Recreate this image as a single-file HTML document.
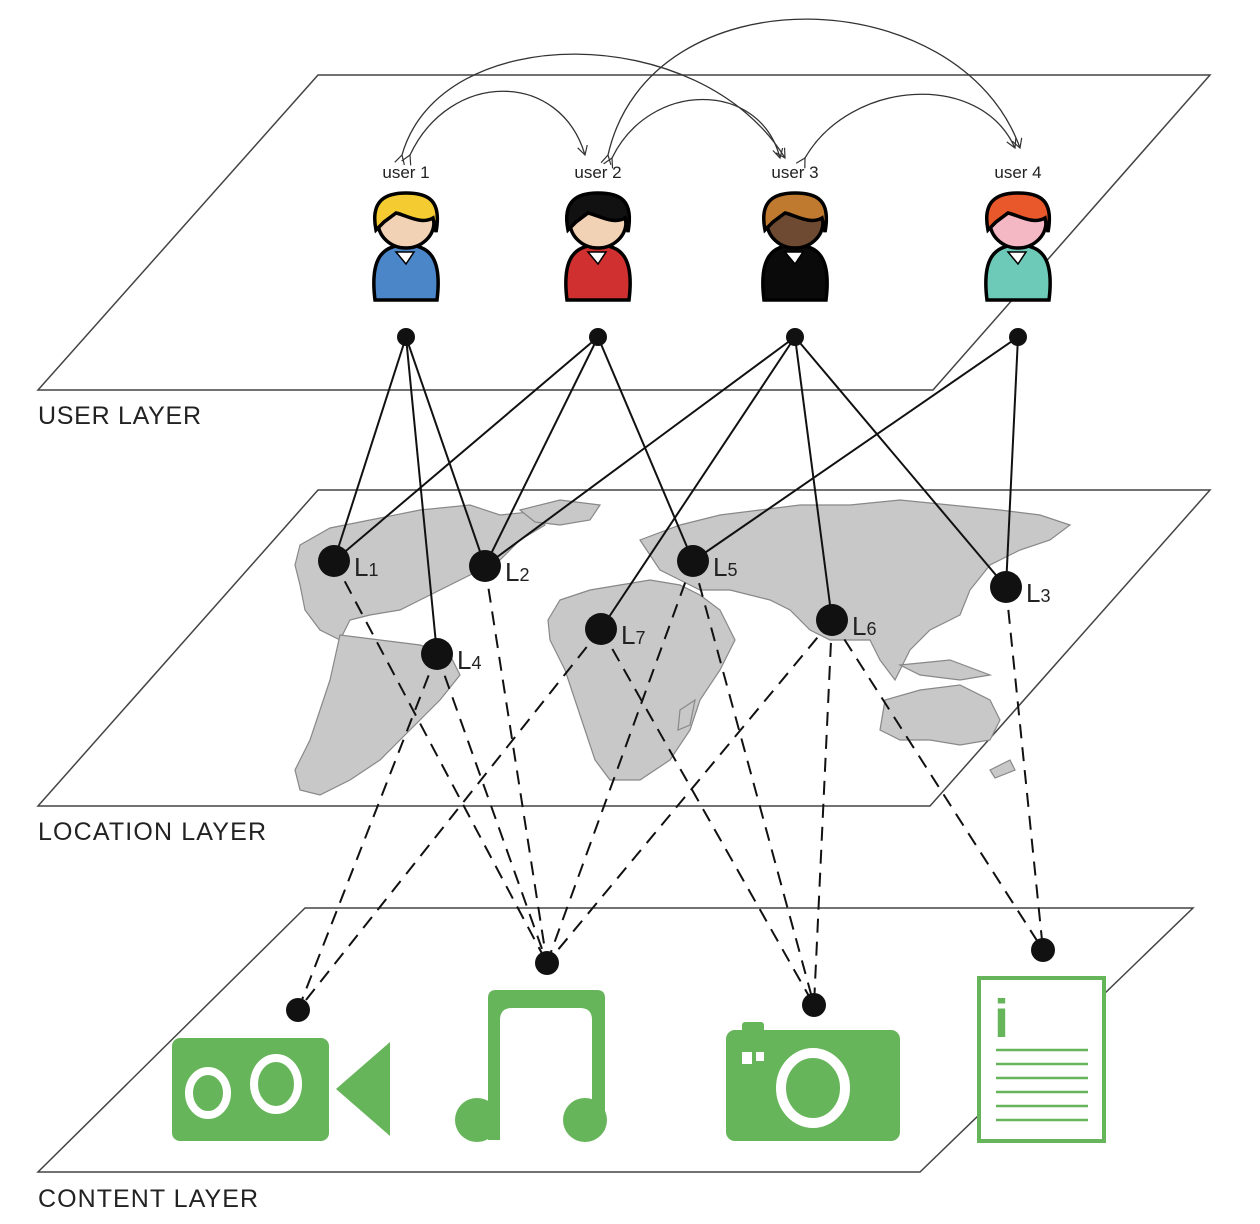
<!DOCTYPE html>
<html><head><meta charset="utf-8"><style>
html,body{margin:0;padding:0;background:#fff}
svg{display:block}
text{font-family:"Liberation Sans",sans-serif}
</style></head><body>
<svg width="1260" height="1224" viewBox="0 0 1260 1224" xmlns="http://www.w3.org/2000/svg">
<defs>
<marker id="ah" markerWidth="12" markerHeight="12" refX="10" refY="6" orient="auto" markerUnits="userSpaceOnUse">
<path d="M1,1 L10,6 L1,11" fill="none" stroke="#333" stroke-width="1.2"/>
</marker>
</defs>

<!-- layers -->
<polygon points="318,75 1210,75 933,390 38,390" fill="#fff" stroke="#444" stroke-width="1.5"/>
<polygon points="318,490 1210,490 930,806 38,806" fill="#fff" stroke="#444" stroke-width="1.5"/>
<polygon points="305,908 1193,908 920,1172 38,1172" fill="#fff" stroke="#444" stroke-width="1.5"/>

<text x="38" y="424" font-size="25" fill="#222" textLength="163">USER LAYER</text>
<text x="38" y="840" font-size="25" fill="#222" textLength="228">LOCATION LAYER</text>
<text x="38" y="1207" font-size="25" fill="#222" textLength="220">CONTENT LAYER</text>

<!-- map -->
<g fill="#c8c8c8" stroke="#888" stroke-width="1.2">
<path d="M300,545 L330,528 L370,520 L420,510 L470,505 L500,515 L530,512 L545,525 L520,540 L500,560 L470,575 L440,590 L420,600 L400,610 L370,615 L350,620 L340,640 L320,630 L305,610 L300,585 L295,565 Z"/>
<path d="M520,510 L560,500 L600,505 L590,520 L560,525 L535,522 Z"/>
<path d="M340,635 L380,640 L420,645 L450,655 L460,675 L440,700 L420,720 L400,740 L380,760 L350,780 L320,795 L300,790 L295,770 L310,740 L320,710 L330,680 Z"/>
<path d="M560,600 L590,590 L620,585 L650,580 L680,585 L700,595 L720,610 L735,640 L720,670 L700,700 L690,730 L670,760 L640,780 L610,780 L595,760 L585,730 L575,700 L565,670 L550,640 L548,620 Z"/>
<path d="M640,540 L680,525 L720,515 L760,510 L800,505 L850,505 L900,500 L950,505 L1000,510 L1040,515 L1070,525 L1050,540 L1020,550 L990,565 L970,590 L960,615 L930,630 L910,650 L895,680 L880,660 L870,640 L850,640 L830,640 L810,630 L790,610 L770,600 L750,595 L730,590 L700,590 L680,580 L660,570 L650,555 Z"/>
<path d="M885,700 L920,690 L960,685 L990,700 L1000,720 L990,740 L960,745 L930,740 L900,740 L880,730 Z"/>
<path d="M900,665 L950,660 L990,675 L960,680 L920,675 Z"/>
<path d="M990,770 L1010,760 L1015,770 L995,778 Z"/>
<path d="M680,710 L695,700 L690,725 L678,730 Z"/>
</g>

<!-- solid edges -->
<g stroke="#111" stroke-width="2" fill="none">
<line x1="406" y1="337" x2="334" y2="561"/>
<line x1="406" y1="337" x2="437" y2="654"/>
<line x1="406" y1="337" x2="485" y2="566"/>
<line x1="598" y1="337" x2="334" y2="561"/>
<line x1="598" y1="337" x2="485" y2="566"/>
<line x1="598" y1="337" x2="693" y2="561"/>
<line x1="795" y1="337" x2="485" y2="566"/>
<line x1="795" y1="337" x2="601" y2="629"/>
<line x1="795" y1="337" x2="832" y2="620"/>
<line x1="795" y1="337" x2="1006" y2="587"/>
<line x1="1018" y1="337" x2="693" y2="561"/>
<line x1="1018" y1="337" x2="1006" y2="587"/>
</g>

<!-- dashed edges -->
<g stroke="#111" stroke-width="2" fill="none" stroke-dasharray="14,9">
<line x1="334" y1="561" x2="547" y2="963"/>
<line x1="437" y1="654" x2="298" y2="1010"/>
<line x1="437" y1="654" x2="547" y2="963"/>
<line x1="485" y1="566" x2="547" y2="963"/>
<line x1="601" y1="629" x2="298" y2="1010"/>
<line x1="601" y1="629" x2="814" y2="1005"/>
<line x1="693" y1="561" x2="547" y2="963"/>
<line x1="693" y1="561" x2="814" y2="1005"/>
<line x1="832" y1="620" x2="547" y2="963"/>
<line x1="832" y1="620" x2="814" y2="1005"/>
<line x1="832" y1="620" x2="1043" y2="950"/>
<line x1="1006" y1="587" x2="1043" y2="950"/>
</g>

<g fill="#111">
<circle cx="406" cy="337" r="9"/><circle cx="598" cy="337" r="9"/><circle cx="795" cy="337" r="9"/><circle cx="1018" cy="337" r="9"/>
<circle cx="334" cy="561" r="16"/><circle cx="485" cy="566" r="16"/><circle cx="693" cy="561" r="16"/><circle cx="1006" cy="587" r="16"/>
<circle cx="437" cy="654" r="16"/><circle cx="601" cy="629" r="16"/><circle cx="832" cy="620" r="16"/>
<circle cx="298" cy="1010" r="12"/><circle cx="547" cy="963" r="12"/><circle cx="814" cy="1005" r="12"/><circle cx="1043" cy="950" r="12"/>
</g>
<g font-size="26" fill="#222">
<text x="354" y="576">L<tspan font-size="18">1</tspan></text>
<text x="505" y="581">L<tspan font-size="18">2</tspan></text>
<text x="713" y="576">L<tspan font-size="18">5</tspan></text>
<text x="1026" y="602">L<tspan font-size="18">3</tspan></text>
<text x="457" y="669">L<tspan font-size="18">4</tspan></text>
<text x="621" y="644">L<tspan font-size="18">7</tspan></text>
<text x="852" y="635">L<tspan font-size="18">6</tspan></text>
</g>

<!-- arcs -->
<g stroke="#333" stroke-width="1.3" fill="none" marker-start="url(#ah)" marker-end="url(#ah)">
<path d="M402,155 C440,20 700,20 785,158"/>
<path d="M410,155 C450,70 560,70 585,155"/>
<path d="M608,155 C650,-30 960,-20 1020,148"/>
<path d="M612,158 C650,80 760,80 780,158"/>
<path d="M805,158 C850,80 980,70 1015,148"/>
</g>
<g font-size="17" fill="#222" text-anchor="middle">
<text x="406" y="178">user 1</text><text x="598" y="178">user 2</text><text x="795" y="178">user 3</text><text x="1018" y="178">user 4</text>
</g>

<!-- users -->
<g stroke="#000" stroke-width="3.5">
<g transform="translate(406,0)">
<path d="M-31,300 C-36,260 -25,245 0,245 C25,245 36,260 31,300 Z" fill="#4a86c8"/>
<ellipse cx="0" cy="222" rx="28" ry="26" fill="#f2d2b4"/>
<path d="M-30,230 C-36,200 -20,193 0,193 C22,193 36,200 30,232 L27,218 C15,225 0,215 -10,213 L-22,222 Z" fill="#f4cc32"/>
</g>
<g transform="translate(598,0)">
<path d="M-31,300 C-36,260 -25,245 0,245 C25,245 36,260 31,300 Z" fill="#d03030"/>
<ellipse cx="0" cy="222" rx="28" ry="26" fill="#f2d2b4"/>
<path d="M-30,230 C-36,200 -20,193 0,193 C22,193 36,200 30,232 L27,218 C15,225 0,215 -10,213 L-22,222 Z" fill="#111"/>
</g>
<g transform="translate(795,0)">
<path d="M-31,300 C-36,260 -25,245 0,245 C25,245 36,260 31,300 Z" fill="#0a0a0a"/>
<ellipse cx="0" cy="222" rx="28" ry="26" fill="#6e4a32"/>
<path d="M-30,230 C-36,200 -20,193 0,193 C22,193 36,200 30,232 L27,218 C15,225 0,215 -10,213 L-22,222 Z" fill="#c07a30"/>
</g>
<g transform="translate(1018,0)">
<path d="M-31,300 C-36,260 -25,245 0,245 C25,245 36,260 31,300 Z" fill="#6ecab8"/>
<ellipse cx="0" cy="222" rx="28" ry="26" fill="#f4b8c4"/>
<path d="M-30,230 C-36,200 -20,193 0,193 C22,193 36,200 30,232 L27,218 C15,225 0,215 -10,213 L-22,222 Z" fill="#e8582a"/>
</g>
</g>
<g fill="#fff" stroke="#000" stroke-width="1.5">
<path d="M396,252 L406,264 L414,252 Z"/><path d="M588,252 L598,264 L606,252 Z"/><path d="M785,252 L795,264 L803,252 Z"/><path d="M1008,252 L1018,264 L1026,252 Z"/>
</g>

<!-- content icons -->
<g fill="#67b55a">
<rect x="172" y="1038" width="157" height="103" rx="8"/>
<polygon points="336,1089 390,1042 390,1136"/>
<path d="M488,1140 L488,998 Q488,990 496,990 L597,990 Q605,990 605,998 L605,1130 L592,1130 L592,1020 Q592,1008 580,1008 L512,1008 Q500,1008 500,1020 L500,1140 Z"/>
<ellipse cx="477" cy="1120" rx="22" ry="22"/>
<ellipse cx="585" cy="1120" rx="22" ry="22"/>
<rect x="742" y="1022" width="22" height="14" rx="3"/>
<rect x="726" y="1030" width="174" height="111" rx="9"/>
</g>
<g fill="none" stroke="#fff" stroke-width="8">
<ellipse cx="208" cy="1093" rx="19" ry="22"/>
<ellipse cx="276" cy="1084" rx="22" ry="26"/>
<ellipse cx="813" cy="1088" rx="32" ry="35" stroke-width="10"/>
</g>
<rect x="742" y="1052" width="10" height="12" fill="#fff"/>
<rect x="756" y="1052" width="8" height="9" fill="#fff"/>
<rect x="979" y="978" width="125" height="163" fill="#fff" stroke="#67b55a" stroke-width="4"/>
<text x="994" y="1037" font-family="Liberation Serif,serif" font-size="54" font-weight="bold" fill="#67b55a">i</text>
<g stroke="#67b55a" stroke-width="2.5">
<line x1="996" y1="1050" x2="1088" y2="1050"/><line x1="996" y1="1064" x2="1088" y2="1064"/><line x1="996" y1="1078" x2="1088" y2="1078"/>
<line x1="996" y1="1092" x2="1088" y2="1092"/><line x1="996" y1="1106" x2="1088" y2="1106"/><line x1="996" y1="1120" x2="1088" y2="1120"/>
</g>
</svg>
</body></html>
